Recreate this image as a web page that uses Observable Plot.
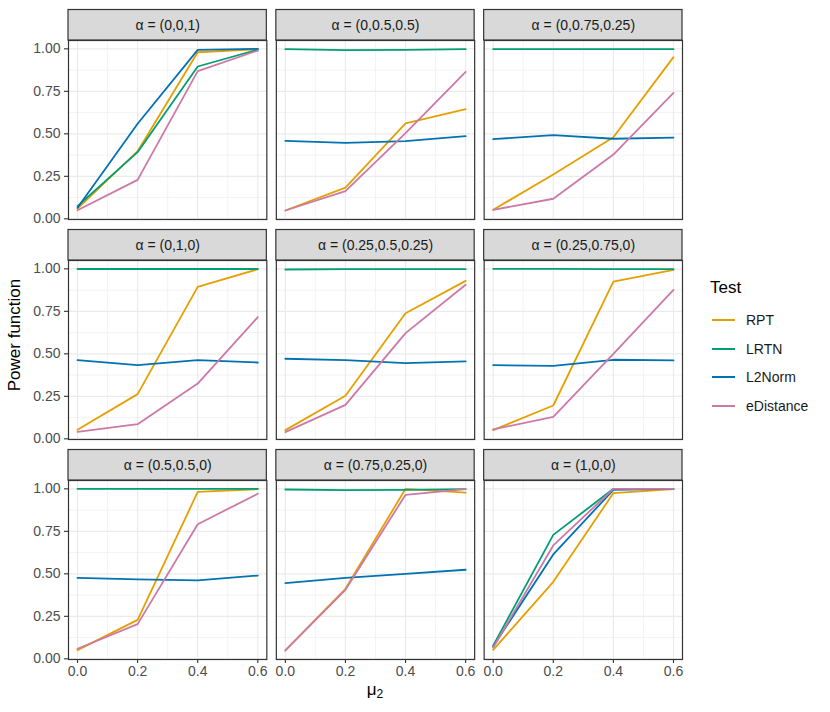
<!DOCTYPE html>
<html>
<head>
<meta charset="utf-8">
<script src="https://cdn.jsdelivr.net/npm/d3@7"></script>
<script src="https://cdn.jsdelivr.net/npm/@observablehq/plot@0.6"></script>
<style>
  html, body { margin: 0; padding: 0; background: #fff; }
  body { font-family: "Liberation Sans", Arial, Helvetica, sans-serif; }
  #wrap { position: relative; width: 830px; height: 712px; overflow: hidden; }
  #wrap svg { position: absolute; left: 0; top: 0; }
  .ylab { position: absolute; left: 15px; top: 335px; transform: translate(-50%, -50%) rotate(-90deg); font-size: 17px; color: #000; white-space: nowrap; }
  .xlab { position: absolute; left: 375px; top: 690px; transform: translate(-50%, -50%); font-size: 17px; color: #000; white-space: nowrap; }
  .xlab sub { font-size: 12px; vertical-align: -3px; }
  .legend { position: absolute; left: 710px; top: 278px; color: #000; }
  .legend .title { font-size: 17px; margin-bottom: 8px; }
  .legend .item { display: flex; align-items: center; height: 28.5px; font-size: 14px; color: #1a1a1a; }
  .legend .sw { width: 23px; height: 0; border-top: 2px solid; margin-left: 2px; margin-right: 11px; }
</style>
</head>
<body>
<div id="wrap"></div>
<script>
// ---------- data ----------
const mu2 = [0, 0.2, 0.4, 0.6];
const alphaLabels = [
  "(0,0,1)", "(0,0.5,0.5)", "(0,0.75,0.25)",
  "(0,1,0)", "(0.25,0.5,0.25)", "(0.25,0.75,0)",
  "(0.5,0.5,0)", "(0.75,0.25,0)", "(1,0,0)"
];
const tests = ["RPT", "LRTN", "L2Norm", "eDistance"];
const testColors = ["#E69F00", "#009E73", "#0072B2", "#CC79A7"];

// power by panel (rows) and mu2 (columns)
const rpt = [
  [0.060, 0.398, 0.980, 0.998],
  [0.049, 0.184, 0.561, 0.645],
  [0.053, 0.261, 0.480, 0.951],
  [0.053, 0.263, 0.894, 0.998],
  [0.051, 0.253, 0.739, 0.929],
  [0.051, 0.196, 0.925, 0.994],
  [0.051, 0.229, 0.982, 0.998],
  [0.049, 0.412, 1.000, 0.978],
  [0.053, 0.453, 0.975, 0.998]
];
const lrtn = [
  [0.075, 0.392, 0.896, 0.995],
  [0.998, 0.992, 0.994, 0.998],
  [0.998, 0.998, 0.998, 0.998],
  [0.999, 0.999, 0.999, 0.999],
  [0.996, 0.998, 0.998, 0.998],
  [1.000, 1.000, 0.998, 0.998],
  [1.000, 1.000, 1.000, 1.000],
  [0.996, 0.992, 0.994, 0.998],
  [0.078, 0.729, 1.000, 1.000]
];
const l2norm = [
  [0.065, 0.559, 0.994, 1.000],
  [0.459, 0.447, 0.457, 0.486],
  [0.469, 0.492, 0.471, 0.478],
  [0.463, 0.433, 0.463, 0.449],
  [0.471, 0.463, 0.445, 0.455],
  [0.433, 0.429, 0.465, 0.461],
  [0.476, 0.467, 0.461, 0.490],
  [0.445, 0.476, 0.500, 0.524],
  [0.073, 0.614, 0.994, 1.000]
];
const edistance = [
  [0.050, 0.229, 0.869, 0.990],
  [0.049, 0.163, 0.504, 0.865],
  [0.053, 0.118, 0.378, 0.741],
  [0.041, 0.086, 0.325, 0.716],
  [0.039, 0.200, 0.622, 0.906],
  [0.055, 0.129, 0.500, 0.876],
  [0.059, 0.204, 0.792, 0.971],
  [0.049, 0.406, 0.965, 0.998],
  [0.067, 0.667, 1.000, 1.000]
];

const xTicks = [0, 0.2, 0.4, 0.6];
const xMinor = [0.1, 0.3, 0.5];
const yTicks = [0, 0.25, 0.5, 0.75, 1];
const yMinor = [0.125, 0.375, 0.625, 0.875];

// ---------- build tables ----------
const seriesList = [rpt, lrtn, l2norm, edistance];
const rows = [];
alphaLabels.forEach((a, i) => {
  tests.forEach((t, k) => {
    seriesList[k][i].forEach((v, j) => {
      rows.push({fx: i % 3, fy: Math.floor(i / 3), test: t, mu2: mu2[j], power: v});
    });
  });
});
const panels = alphaLabels.map((a, i) => ({fx: i % 3, fy: Math.floor(i / 3), label: "α = " + a}));

const xDom = [-0.03, 0.63];
const yDom = [-0.004, 1.049];
const stripTop = yDom[1] + 30.5 / 170;
const stripMid = (yDom[1] + stripTop) / 2;

const chart = Plot.plot({
  width: 830,
  height: 712,
  marginLeft: 68,
  marginRight: 148,
  marginTop: 40,
  marginBottom: 53,
  fx: {domain: [0, 1, 2], paddingInner: 0.0457, paddingOuter: 0, round: false, axis: null},
  fy: {domain: [0, 1, 2], paddingInner: 0.1864, paddingOuter: 0, round: false, axis: null},
  x: {domain: xDom, label: null},
  y: {domain: yDom, label: null},
  color: {domain: tests, range: testColors},
  style: {fontFamily: '"Liberation Sans", Arial, Helvetica, sans-serif', fontSize: "14px", background: "#fff"},
  marks: [
    Plot.ruleY(yMinor, {stroke: "#EBEBEB", strokeWidth: 0.6}),
    Plot.ruleX(xMinor, {stroke: "#EBEBEB", strokeWidth: 0.6}),
    Plot.ruleY(yTicks, {stroke: "#EBEBEB", strokeWidth: 1.2}),
    Plot.ruleX(xTicks, {stroke: "#EBEBEB", strokeWidth: 1.2}),
    Plot.line(rows, {x: "mu2", y: "power", z: "test", stroke: "test", fx: "fx", fy: "fy", strokeWidth: 1.8}),
    Plot.frame({stroke: "#333333", strokeWidth: 1.2}),
    Plot.rect(panels, {fx: "fx", fy: "fy", x1: xDom[0], x2: xDom[1], y1: yDom[1], y2: stripTop, fill: "#D9D9D9", stroke: "#333333", strokeWidth: 1.2}),
    Plot.text(panels, {fx: "fx", fy: "fy", x: (xDom[0] + xDom[1]) / 2, y: stripMid, text: "label", fill: "#1A1A1A", fontSize: 14}),
    Plot.axisX({ticks: xTicks, tickFormat: d3.format(".1f"), tickSize: 4, tickPadding: 3, label: null, stroke: "#333333", fill: "#4D4D4D", strokeWidth: 1.1, fontSize: 14}),
    Plot.axisY({ticks: yTicks, tickFormat: d3.format(".2f"), tickSize: 4, tickPadding: 4, label: null, stroke: "#333333", fill: "#4D4D4D", strokeWidth: 1.1, fontSize: 14})
  ]
});

const wrap = document.getElementById("wrap");
wrap.appendChild(chart);

const ylab = document.createElement("div");
ylab.className = "ylab";
ylab.textContent = "Power function";
wrap.appendChild(ylab);

const xlab = document.createElement("div");
xlab.className = "xlab";
xlab.innerHTML = "μ<sub>2</sub>";
wrap.appendChild(xlab);

const legend = document.createElement("div");
legend.className = "legend";
legend.innerHTML = '<div class="title">Test</div>' +
  tests.map((t, k) => `<div class="item"><span class="sw" style="border-color:${testColors[k]}"></span>${t}</div>`).join("");
wrap.appendChild(legend);
</script>
</body>
</html>
